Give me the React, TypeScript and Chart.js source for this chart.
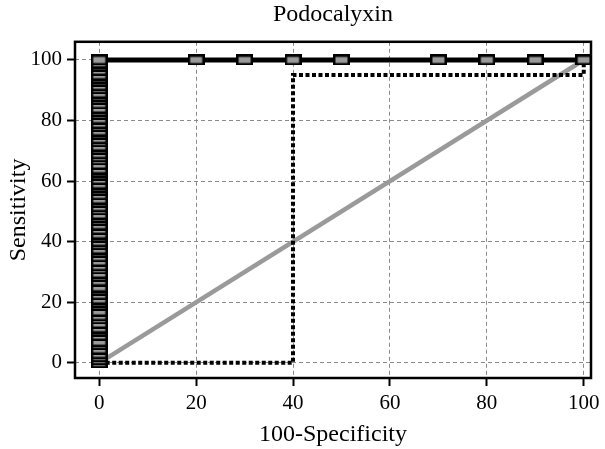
import React, { useEffect, useRef } from "react";
import { Chart, registerables } from "chart.js";

Chart.register(...registerables);

const TITLE = "Podocalyxin";
const X_TITLE = "100-Specificity";
const Y_TITLE = "Sensitivity";
const X_TICKS = [0, 20, 40, 60, 80, 100];
const Y_TICKS = [0, 20, 40, 60, 80, 100];

// ROC points at 100-Specificity = 0 (sensitivity values)
const ROC_SENS_AT_ZERO = [
  0, 1, 2, 3, 4.5, 6, 7, 9, 10.5, 11.5, 13, 14.5, 15.5, 17, 19, 20, 21, 22.5,
  24, 25, 27, 28.5, 29.5, 31, 32, 33.5, 35, 36.5, 37.5, 39, 40, 41.5, 42.5, 44,
  45.5, 47, 48, 49, 50.5, 51.5, 53, 54, 55.5, 57, 58, 59, 60.5, 62, 63, 64,
  65.5, 67, 68, 69, 70.5, 71.5, 73, 74, 75.5, 76.5, 78, 79, 80.5, 82, 83, 84,
  85.5, 87, 88, 89, 90.5, 91.5, 93, 94, 95, 96.5, 98, 99, 100,
];
// ROC points at sensitivity = 100
const ROC_TOP_X = [20, 30, 40, 50, 70, 80, 90, 100];
const ROC_TOP_Y = [100, 100, 100, 100, 100, 100, 100, 100];

// Dotted step curve
const STEP_X = [0, 40, 40, 100, 100];
const STEP_Y = [0, 0, 95, 95, 100];

// Reference diagonal
const DIAG_X = [0, 100];
const DIAG_Y = [0, 100];

function makeMarker(): HTMLCanvasElement {
  const c = document.createElement("canvas");
  c.width = 17;
  c.height = 11;
  const g = c.getContext("2d")!;
  g.fillStyle = "#000";
  g.fillRect(0, 0, 17, 11);
  g.fillStyle = "#9a9a9a";
  g.fillRect(2.5, 2.5, 12, 6);
  return c;
}

const FONT = "'Liberation Serif', 'Times New Roman', serif";

export default function App() {
  const ref = useRef<HTMLCanvasElement>(null);
  useEffect(() => {
    const marker = makeMarker();
    const rocPts = [
      ...ROC_SENS_AT_ZERO.map((y) => ({ x: 0, y })),
      ...ROC_TOP_X.map((x, i) => ({ x, y: ROC_TOP_Y[i] })),
    ];
    const stepPts = STEP_X.map((x, i) => ({ x, y: STEP_Y[i] }));
    const diagPts = DIAG_X.map((x, i) => ({ x, y: DIAG_Y[i] }));

    const boxPlugin = {
      id: "box",
      afterDraw(chart: any) {
        const { ctx, chartArea: a } = chart;
        ctx.save();
        ctx.strokeStyle = "#000";
        ctx.lineWidth = 2.5;
        ctx.strokeRect(a.left, a.top, a.right - a.left, a.bottom - a.top);
        ctx.restore();
      },
    };

    const chart = new Chart(ref.current!, {
      type: "scatter",
      data: {
        datasets: [
          {
            label: "ROC",
            data: rocPts,
            showLine: true,
            borderColor: "#000",
            borderWidth: 5,
            pointStyle: marker as any,
            pointRadius: 5,
            order: 1,
          },
          {
            label: "step",
            data: stepPts,
            showLine: true,
            borderColor: "#000",
            borderWidth: 4,
            borderDash: [4, 2.5],
            pointRadius: 0,
            order: 2,
          },
          {
            label: "diag",
            data: diagPts,
            showLine: true,
            borderColor: "#9a9a9a",
            borderWidth: 4.5,
            pointRadius: 0,
            order: 3,
          },
        ],
      },
      options: {
        responsive: false,
        animation: false,
        layout: { padding: { left: 0, right: 14, top: 0, bottom: 0 } },
        plugins: {
          legend: { display: false },
          tooltip: { enabled: false },
          title: {
            display: true,
            text: TITLE,
            fullSize: false,
            color: "#000",
            font: { family: FONT, size: 24, weight: "normal", lineHeight: 1.2 },
            padding: { top: 0, bottom: 13 },
          },
        },
        scales: {
          x: {
            type: "linear",
            min: -5,
            max: 101.5,
            afterBuildTicks: (s: any) => {
              s.ticks = X_TICKS.map((v) => ({ value: v }));
            },
            afterFit: (s: any) => {
              s.height = 71;
            },
            ticks: {
              color: "#000",
              font: { family: FONT, size: 21 },
              padding: 5,
            },
            grid: {
              color: "#8a8a8a",
              lineWidth: 1,
              tickLength: 8,
              tickColor: "#000",
              tickWidth: 2,
            },
            border: { display: false, dash: [4, 3] },
            title: {
              display: true,
              text: X_TITLE,
              color: "#000",
              font: { family: FONT, size: 24, lineHeight: 1.2 },
              padding: { top: 0, bottom: 0 },
            },
          },
          y: {
            type: "linear",
            min: -5,
            max: 106,
            afterBuildTicks: (s: any) => {
              s.ticks = Y_TICKS.map((v) => ({ value: v }));
            },
            afterFit: (s: any) => {
              s.width = 75;
            },
            ticks: {
              color: "#000",
              font: { family: FONT, size: 21 },
              padding: 5,
            },
            grid: {
              color: "#8a8a8a",
              lineWidth: 1,
              tickLength: 8,
              tickColor: "#000",
              tickWidth: 2,
            },
            border: { display: false, dash: [4, 3] },
            title: {
              display: true,
              text: Y_TITLE,
              color: "#000",
              font: { family: FONT, size: 24, lineHeight: 1.2 },
              padding: { top: 4, bottom: 0 },
            },
          },
        },
      },
      plugins: [boxPlugin],
    });
    return () => chart.destroy();
  }, []);

  return (
    <div style={{ position: "fixed", left: 0, top: 0, width: 605, height: 449, background: "#fff" }}>
      <canvas ref={ref} width={605} height={449} style={{ display: "block", width: 605, height: 449 }} />
    </div>
  );
}
